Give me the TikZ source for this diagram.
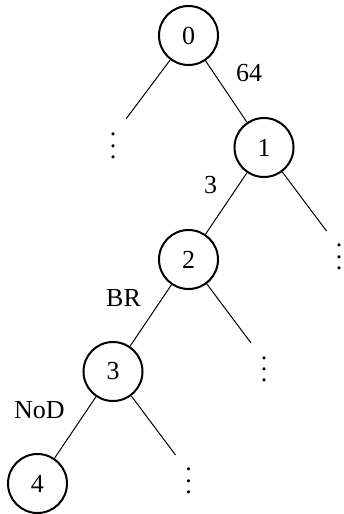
\documentclass[tikz,border=0pt]{standalone}
\usepackage{fontspec}
\setmainfont{Liberation Serif}
\usetikzlibrary{calc}
\newcommand\mydots{\vbox{\baselineskip=5.6pt\lineskiplimit=0pt\hbox{.}\hbox{.}\hbox{.}}}
\begin{document}
\begin{tikzpicture}[x=0.5pt,y=-0.5pt,
  every node/.style={font=\fontsize{13}{15}\selectfont},
  state/.style={circle,draw,line width=1pt,minimum size=29.5pt,inner sep=0pt},
  dotsnode/.style={inner sep=0pt},
  lbl/.style={inner sep=0pt},
  edge/.style={line width=0.5pt}]
\useasboundingbox (0,0) rectangle (343,514);
\node[state] (n0) at (188.5,35.5) {0};
\node[state] (n1) at (264,147.5) {1};
\node[state] (n2) at (188.5,259.5) {2};
\node[state] (n3) at (113,371.5) {3};
\node[state] (n4) at (37.5,483.5) {4};
% dots
\node[dotsnode] (d0) at (113,146) {\mydots};
\node[dotsnode] (d1) at (339,257) {\mydots};
\node[dotsnode] (d2) at (264,369.5) {\mydots};
\node[dotsnode] (d3) at (188.5,481) {\mydots};
% edge ends toward dots
\coordinate (e0) at ($(n0)+(-62.5,83.5)$);
\coordinate (e1) at ($(n1)+(62.5,83.5)$);
\coordinate (e2) at ($(n2)+(62.5,83.5)$);
\coordinate (e3) at ($(n3)+(62.5,83.5)$);
\draw[edge] (n0) -- (e0);
\draw[edge] (n1) -- (e1);
\draw[edge] (n2) -- (e2);
\draw[edge] (n3) -- (e3);
\draw[edge] (n0) -- (n1);
\draw[edge] (n1) -- (n2);
\draw[edge] (n2) -- (n3);
\draw[edge] (n3) -- (n4);
% labels
\node[lbl] (l0) at (249,73.5) {64};
\node[lbl] (l1) at (210.5,185.5) {3};
\node[lbl] (l2) at (123.5,298) {BR};
\node[lbl] (l3) at (39.5,410) {NoD};
\end{tikzpicture}
\end{document}
